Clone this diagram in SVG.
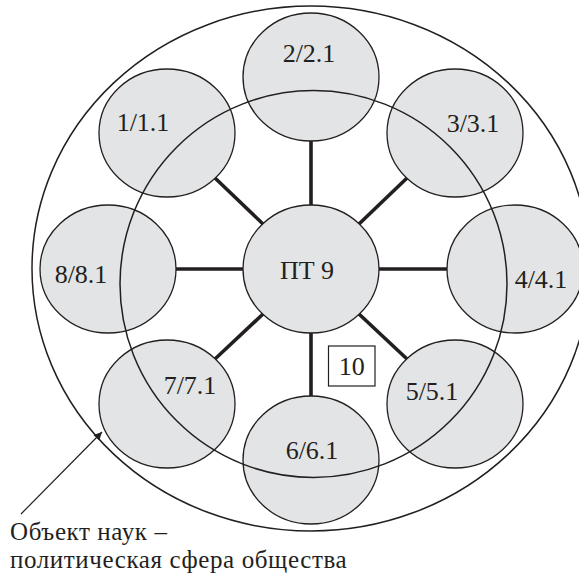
<svg xmlns="http://www.w3.org/2000/svg" width="579" height="573" viewBox="0 0 579 573">
<defs>
<style>
.node{fill:#e3e4e6;stroke:#231f20;stroke-width:1.3}
.lbl{font-family:"Liberation Serif","DejaVu Serif",serif;font-size:26px;fill:#231f20;text-anchor:middle}
.conn{stroke:#231f20;stroke-width:3.6;fill:none}
.ring{fill:none;stroke:#231f20;stroke-width:1.5}
.cap{font-family:"Liberation Serif","DejaVu Serif",serif;font-size:25px;letter-spacing:0.6px;fill:#231f20}
</style>
<marker id="ah" viewBox="0 0 10 10" refX="10" refY="5" markerWidth="10" markerHeight="8" markerUnits="userSpaceOnUse" orient="auto">
<path d="M0,0 L10,5 L0,10 z" fill="#231f20"/>
</marker>
</defs>
<rect width="579" height="573" fill="#ffffff"/>
<g id="connectors">
<line class="conn" x1="263" y1="224" x2="215" y2="178"/>
<line class="conn" x1="359" y1="224" x2="407" y2="178"/>
<line class="conn" x1="263" y1="314" x2="215" y2="359"/>
<line class="conn" x1="359" y1="314" x2="407" y2="359"/>
<line class="conn" x1="311" y1="205" x2="311" y2="141"/>
<line class="conn" x1="311" y1="333" x2="311" y2="396"/>
<line class="conn" x1="243" y1="269" x2="176" y2="269"/>
<line class="conn" x1="379" y1="269" x2="447" y2="269"/>
</g>
<g id="n9"><ellipse class="node" cx="311" cy="269" rx="68" ry="64"/><text class="lbl" x="307" y="279">ПТ 9</text></g>
<g id="n2"><ellipse class="node" cx="311" cy="77" rx="68" ry="64"/><text class="lbl" x="309" y="62">2/2.1</text></g>
<g id="n6"><ellipse class="node" cx="311" cy="460" rx="68" ry="64"/><text class="lbl" x="312" y="459">6/6.1</text></g>
<g id="n8"><ellipse class="node" cx="108" cy="269" rx="68" ry="64"/><text class="lbl" x="81" y="283">8/8.1</text></g>
<g id="n4"><ellipse class="node" cx="515" cy="269" rx="68" ry="64"/><text class="lbl" x="541" y="288">4/4.1</text></g>
<g id="n1"><ellipse class="node" cx="167" cy="133" rx="68" ry="64"/><text class="lbl" x="143" y="131">1/1.1</text></g>
<g id="n3"><ellipse class="node" cx="455" cy="133" rx="68" ry="64"/><text class="lbl" x="473" y="132">3/3.1</text></g>
<g id="n7"><ellipse class="node" cx="167" cy="404" rx="68" ry="64"/><text class="lbl" x="190" y="394">7/7.1</text></g>
<g id="n5"><ellipse class="node" cx="455" cy="404" rx="68" ry="64"/><text class="lbl" x="432" y="400">5/5.1</text></g>
<g id="spheres">
<ellipse class="ring" cx="311" cy="268.5" rx="279" ry="262.5"/>
<circle class="ring" cx="313.5" cy="284" r="193.5"/>
</g>
<g id="n10"><rect x="328.5" y="346" width="46.5" height="40" fill="#ffffff" stroke="#231f20" stroke-width="1.2"/><text class="lbl" x="351.7" y="375">10</text></g>
<g id="caption">
<line x1="21" y1="514" x2="102" y2="432" stroke="#231f20" stroke-width="1.2" marker-end="url(#ah)"/>
<text class="cap" x="10" y="540">Объект наук –</text>
<text class="cap" x="10" y="568">политическая сфера общества</text>
</g>
</svg>
